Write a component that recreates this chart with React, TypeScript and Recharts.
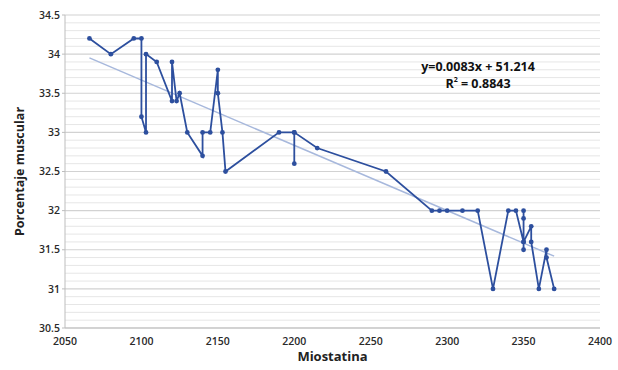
import React from 'react'
import {
  ScatterChart, Scatter, XAxis, YAxis, CartesianGrid, ReferenceLine,
} from 'recharts'

// values, in the order the line joins them
const miostatina = [
  2066, 2080, 2095, 2100, 2100, 2103, 2103, 2110, 2120, 2120,
  2123, 2125, 2130, 2140, 2140, 2145, 2150, 2150, 2153, 2155,
  2190, 2200, 2200, 2200, 2215, 2260, 2290, 2295, 2300, 2310,
  2320, 2330, 2340, 2345, 2350, 2350, 2350, 2350, 2350, 2355,
  2355, 2360, 2365, 2365, 2370,
]
const porcentaje = [
  34.2, 34.0, 34.2, 34.2, 33.2, 33.0, 34.0, 33.9, 33.4, 33.9,
  33.4, 33.5, 33.0, 32.7, 33.0, 33.0, 33.8, 33.5, 33.0, 32.5,
  33.0, 33.0, 32.6, 33.0, 32.8, 32.5, 32.0, 32.0, 32.0, 32.0,
  32.0, 31.0, 32.0, 32.0, 31.6, 32.0, 31.9, 31.5, 31.6, 31.8,
  31.6, 31.0, 31.5, 31.4, 31.0,
]

const xTicks = [2050, 2100, 2150, 2200, 2250, 2300, 2350, 2400]
const yTicks = [30.5, 31, 31.5, 32, 32.5, 33, 33.5, 34, 34.5]
const minorTicks = Array.from({ length: 41 }, (_, i) => Math.round((30.5 + i * 0.1) * 10) / 10)
  .filter((v) => !yTicks.includes(v))

const equation = 'y=0.0083x + 51.214'
const r2 = '0.8843'

const LINE = '#2d4f9e'
const TREND = '#a7b8dc'
const FONT = '"Open Sans", sans-serif'

const points = miostatina.map((x, i) => ({ x, y: porcentaje[i] }))

// least squares trend from the points
function trend() {
  const n = points.length
  const mx = points.reduce((s, p) => s + p.x, 0) / n
  const my = points.reduce((s, p) => s + p.y, 0) / n
  let num = 0
  let den = 0
  points.forEach((p) => {
    num += (p.x - mx) * (p.y - my)
    den += (p.x - mx) * (p.x - mx)
  })
  const b = num / den
  const a = my - b * mx
  const x0 = Math.min(...miostatina)
  const x1 = Math.max(...miostatina)
  return [{ x: x0, y: a + b * x0 }, { x: x1, y: a + b * x1 }]
}

const Dot = (props: any) => <circle cx={props.cx} cy={props.cy} r={2.4} fill={LINE} />
const NoDot = () => <g />

const tick = { fill: '#2a2a2a', fontSize: 10.5, fontWeight: 600, fontFamily: FONT }

export default function App() {
  return (
    <div style={{ position: 'relative', width: 618, height: 370, background: '#fff' }}>
      <style>{'body{margin:0}'}</style>
      <ScatterChart width={618} height={370} margin={{ top: 15, right: 18, left: 20, bottom: 12 }}>
        {minorTicks.map((v) => (
          <ReferenceLine key={v} y={v} stroke="#e6e6e6" strokeWidth={1} ifOverflow="hidden" />
        ))}
        <CartesianGrid vertical={false} stroke="#d2d2d2" strokeWidth={1.2} />
        <XAxis
          type="number"
          dataKey="x"
          domain={[2050, 2400]}
          ticks={xTicks}
          tick={tick}
          tickLine={false}
          axisLine={{ stroke: '#bdbdbd' }}
          height={30}
          tickMargin={4}
          label={{ value: 'Miostatina', position: 'insideBottom', offset: -3, style: { fill: '#222', fontSize: 13, fontWeight: 700, fontFamily: FONT } }}
        />
        <YAxis
          type="number"
          dataKey="y"
          domain={[30.5, 34.5]}
          ticks={yTicks}
          tick={tick}
          tickSize={3}
          tickLine={{ stroke: '#bdbdbd' }}
          axisLine={{ stroke: '#bdbdbd' }}
          width={45}
          label={{ value: 'Porcentaje muscular', angle: -90, position: 'insideLeft', offset: 0, style: { textAnchor: 'middle', fill: '#222', fontSize: 12.5, fontWeight: 700, fontFamily: FONT } }}
        />
        <Scatter
          data={trend()}
          line={{ stroke: TREND, strokeWidth: 1.5 }}
          shape={NoDot}
          isAnimationActive={false}
        />
        <Scatter
          data={points}
          line={{ stroke: LINE, strokeWidth: 1.8 }}
          lineType="joint"
          shape={Dot}
          isAnimationActive={false}
        />
      </ScatterChart>
      <div
        style={{
          position: 'absolute', left: 398, top: 58, width: 160, textAlign: 'center',
          fontFamily: FONT, fontWeight: 700, fontSize: 12.5, lineHeight: '17px', color: '#111',
        }}
      >
        <div>{equation}</div>
        <div>R<sup style={{ fontSize: 7, verticalAlign: 'top', lineHeight: '10px' }}>2</sup> = {r2}</div>
      </div>
    </div>
  )
}
